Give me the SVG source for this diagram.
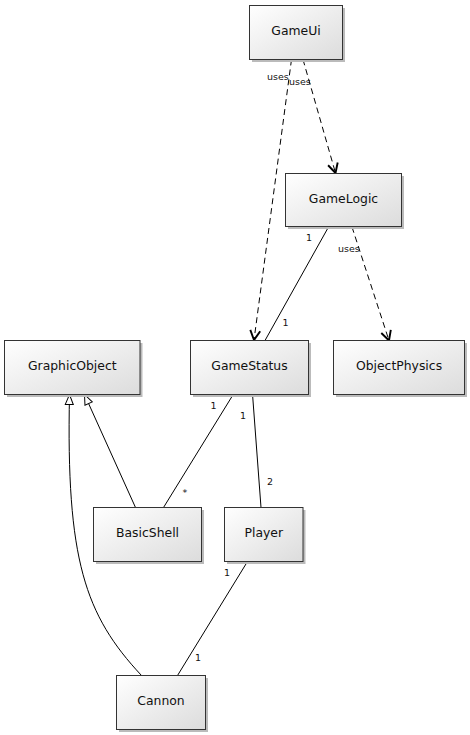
<svg xmlns="http://www.w3.org/2000/svg" width="470" height="735" viewBox="0 0 470 735">
<defs>
<linearGradient id="g" x1="0" y1="0" x2="1" y2="1">
<stop offset="0" stop-color="#ffffff"/>
<stop offset="1" stop-color="#dcdcdc"/>
</linearGradient>
<marker id="open" markerUnits="userSpaceOnUse" markerWidth="16" markerHeight="16" refX="11" refY="6" orient="auto" viewBox="0 0 16 12">
<path d="M1.5,1 L11,6 L1.5,11" fill="none" stroke="#000" stroke-width="1.9"/>
</marker>
<marker id="tri" markerUnits="userSpaceOnUse" markerWidth="14" markerHeight="12" refX="11" refY="5" orient="auto" viewBox="0 0 14 10">
<path d="M1,1 L11,5 L1,9 Z" fill="#fff" stroke="#000" stroke-width="1"/>
</marker>
</defs>
<style>
.box{fill:url(#g);stroke:#333;stroke-width:1}
.sh{fill:#bbb;stroke:none}
.name{font-family:"DejaVu Sans",Verdana,sans-serif;font-size:12.4px;fill:#111;text-anchor:middle}
.lbl{font-family:"DejaVu Sans",Verdana,sans-serif;font-size:9.5px;fill:#111}
.dep{fill:none;stroke:#000;stroke-width:1;stroke-dasharray:6,4;marker-end:url(#open)}
.asc{fill:none;stroke:#000;stroke-width:1}
.gen{fill:none;stroke:#000;stroke-width:1;marker-end:url(#tri)}
</style>
<g id="connectors">
<path class="dep" d="M291.5,59.5 L254,340"/>
<path class="dep" d="M303,59.5 L335.5,173"/>
<path class="dep" d="M352,227 L389,340.5"/>
<path class="asc" d="M328.5,227 L265,340.5"/>
<path class="asc" d="M233.5,394 L163.5,507.5"/>
<path class="asc" d="M252.5,394 L261,507.5"/>
<path class="asc" d="M247.5,561.5 L177.5,675.5"/>
<path class="gen" d="M135.5,507.5 L84.5,394.5"/>
<path class="gen" d="M141.5,675.5 C85,615 66,560 69.5,394.5"/>
<text class="lbl" x="267" y="80">uses</text>
<text class="lbl" x="289" y="84.5">uses</text>
<text class="lbl" x="338" y="251.5">uses</text>
<text class="lbl" x="306" y="241">1</text>
<text class="lbl" x="282.5" y="325.5">1</text>
<text class="lbl" x="210.5" y="409">1</text>
<text class="lbl" x="240" y="419">1</text>
<text class="lbl" x="182.5" y="496">*</text>
<text class="lbl" x="267" y="485">2</text>
<text class="lbl" x="224" y="576">1</text>
<text class="lbl" x="195" y="661">1</text>
</g>
<g id="GameUi">
<rect class="sh" x="252" y="8" width="93" height="54"/>
<rect class="box" x="249.5" y="5.5" width="93" height="54"/>
<text class="name" x="296" y="35">GameUi</text>
</g>
<g id="GameLogic">
<rect class="sh" x="288" y="176" width="116" height="53"/>
<rect class="box" x="285.5" y="173.5" width="116" height="53"/>
<text class="name" x="343.5" y="203">GameLogic</text>
</g>
<g id="GraphicObject">
<rect class="sh" x="7" y="343" width="135.5" height="54"/>
<rect class="box" x="4.5" y="340.5" width="135.5" height="54"/>
<text class="name" x="72.25" y="370">GraphicObject</text>
</g>
<g id="GameStatus">
<rect class="sh" x="193" y="343" width="118" height="54"/>
<rect class="box" x="190.5" y="340.5" width="118" height="54"/>
<text class="name" x="249.5" y="370">GameStatus</text>
</g>
<g id="ObjectPhysics">
<rect class="sh" x="336" y="343" width="131" height="54"/>
<rect class="box" x="333.5" y="340.5" width="131" height="54"/>
<text class="name" x="399" y="370">ObjectPhysics</text>
</g>
<g id="BasicShell">
<rect class="sh" x="96" y="510" width="108" height="54"/>
<rect class="box" x="93.5" y="507.5" width="108" height="54"/>
<text class="name" x="147.5" y="537">BasicShell</text>
</g>
<g id="Player">
<rect class="sh" x="227" y="510" width="78.5" height="54"/>
<rect class="box" x="224.5" y="507.5" width="78.5" height="54"/>
<text class="name" x="263.75" y="537">Player</text>
</g>
<g id="Cannon">
<rect class="sh" x="119" y="678" width="89" height="54"/>
<rect class="box" x="116.5" y="675.5" width="89" height="54"/>
<text class="name" x="161" y="705">Cannon</text>
</g>
</svg>
